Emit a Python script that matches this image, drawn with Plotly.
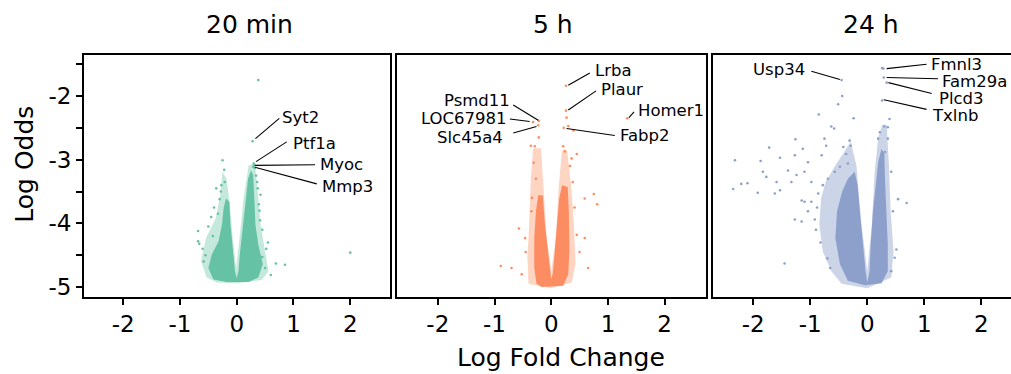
import plotly.graph_objects as go

W, H = 1011, 374
FONT = "DejaVu Sans"

panel_titles = ["20 min", "5 h", "24 h"]
colors = ["#66c2a5", "#fc8d62", "#8da0cb"]

# ---------- Panel 1 (20 min) ----------
p1_core_x = [-0.41, -0.50, -0.44, -0.32, -0.26, -0.23, -0.19, -0.13, -0.11, -0.07, -0.03, 0.00, 0.03, 0.06, 0.11, 0.15, 0.20, 0.25, 0.29, 0.31, 0.33, 0.38, 0.46, 0.38, 0.21, -0.18]
p1_core_y = [-4.88, -4.70, -4.49, -4.28, -4.02, -3.76, -3.61, -3.66, -4.02, -4.44, -4.75, -4.86, -4.75, -4.44, -4.02, -3.61, -3.30, -3.17, -3.24, -3.61, -4.02, -4.33, -4.64, -4.85, -4.92, -4.92]
p1_halo_x = [-0.53, -0.63, -0.54, -0.37, -0.29, -0.25, -0.18, -0.12, -0.07, -0.01, 0.05, 0.12, 0.21, 0.32, 0.37, 0.42, 0.50, 0.56, 0.44, 0.00, -0.35]
p1_halo_y = [-4.85, -4.59, -4.23, -3.92, -3.56, -3.19, -3.30, -3.71, -4.23, -4.70, -4.23, -3.61, -3.09, -3.06, -3.50, -4.02, -4.44, -4.75, -4.89, -4.94, -4.93]
p1_pts_x = [0.38, 0.28, 0.30, 0.31, 0.29, 0.32, -0.25, -0.22, -0.21, -0.28, -0.68, -0.68, -0.66, 0.69, 0.85, 0.55, 0.45, 0.60, 2.00, 0.42, 0.40, 0.45, -0.45, -0.50, -0.55, -0.58, 0.50, -0.36, 0.36, -0.40,
            -0.30, -0.27, -0.33, -0.42, 0.34, 0.37, 0.39, 0.41, -0.60, 0.52]
p1_pts_y = [-1.75, -2.71, -3.06, -3.09, -3.11, -3.13, -3.01, -3.16, -3.35, -3.50, -4.12, -4.28, -4.32, -4.63, -4.65, -4.30, -4.53, -4.81, -4.46, -3.55, -3.80, -4.10, -3.90, -4.05, -4.50, -4.60, -4.70, -3.45, -3.35, -3.75,
            -3.62, -3.40, -3.85, -4.20, -3.25, -3.45, -3.70, -3.95, -4.40, -4.40]
p1_labels = ["Syt2", "Ptf1a", "Myoc", "Mmp3"]
p1_lab_x = [0.76, 0.95, 1.44, 1.46]
p1_lab_y = [-2.33, -2.74, -3.08, -3.42]
p1_seg_x0 = [0.33, 0.34, 0.32, 0.32]
p1_seg_y0 = [-2.67, -3.03, -3.09, -3.12]
p1_seg_x1 = [0.75, 0.88, 1.38, 1.41]
p1_seg_y1 = [-2.35, -2.72, -3.08, -3.38]

# ---------- Panel 2 (5 h) ----------
p2_core_x = [-0.26, -0.30, -0.30, -0.27, -0.23, -0.15, -0.11, -0.06, -0.02, 0.00, 0.03, 0.06, 0.11, 0.14, 0.19, 0.29, 0.31, 0.32, 0.30, 0.21, -0.17]
p2_core_y = [-4.95, -4.70, -4.23, -3.81, -3.56, -3.56, -4.02, -4.44, -4.77, -4.88, -4.77, -4.44, -4.02, -3.61, -3.40, -3.43, -3.81, -4.44, -4.80, -4.98, -5.00]
p2_halo_x = [-0.40, -0.42, -0.39, -0.36, -0.32, -0.18, -0.14, -0.08, 0.00, 0.08, 0.13, 0.19, 0.28, 0.35, 0.40, 0.43, 0.36, 0.00]
p2_halo_y = [-4.95, -4.54, -4.02, -3.30, -2.82, -2.82, -3.40, -4.23, -4.75, -4.23, -3.45, -2.85, -2.85, -3.40, -4.02, -4.64, -4.93, -5.02]
p2_pts_x = [0.26, 0.26, 0.27, 1.34, 0.22, -0.22, -0.32, -0.23, -0.22, -0.36, -0.29, 0.21, 0.24, 0.45, 0.36, 0.75, 0.81, 0.59, -0.57, -0.89, -0.70, 0.65, 0.59, 0.45, -0.46, -0.52, -0.35, 0.30, 0.39,
            -0.31, -0.27, -0.34, 0.33, 0.38, 0.41, -0.45, 0.50]
p2_pts_y = [-1.84, -2.23, -2.34, -2.35, -2.50, -2.39, -2.41, -2.46, -2.65, -2.78, -2.79, -2.79, -2.87, -2.91, -2.98, -3.54, -3.70, -3.61, -4.08, -4.67, -4.70, -4.70, -4.23, -4.18, -4.23, -4.80, -3.81, -2.47, -2.54,
            -3.05, -3.30, -3.60, -3.10, -3.35, -3.75, -4.45, -4.45]
p2_labels = ["Lrba", "Plaur", "Homer1", "Fabp2", "Psmd11", "LOC67981", "Slc45a4"]
p2_lab_x = [0.74, 0.84, 1.49, 1.17, -0.70, -0.74, -0.82]
p2_lab_y = [-1.60, -1.89, -2.22, -2.62, -2.07, -2.36, -2.65]
p2_seg_x0 = [0.30, 0.30, 1.37, 0.27, -0.23, -0.38, -0.26]
p2_seg_y0 = [-1.83, -2.22, -2.34, -2.51, -2.38, -2.40, -2.48]
p2_seg_x1 = [0.68, 0.79, 1.46, 1.12, -0.67, -0.73, -0.67]
p2_seg_y1 = [-1.64, -1.92, -2.25, -2.62, -2.14, -2.36, -2.58]

# ---------- Panel 3 (24 h) ----------
p3_core_x = [-0.34, -0.48, -0.56, -0.53, -0.44, -0.34, -0.22, -0.17, -0.13, -0.08, -0.03, 0.00, 0.04, 0.06, 0.10, 0.15, 0.19, 0.25, 0.30, 0.31, 0.34, 0.36, 0.36, 0.25, -0.04]
p3_core_y = [-4.90, -4.64, -4.23, -3.81, -3.50, -3.30, -3.19, -3.40, -3.81, -4.33, -4.75, -4.93, -4.75, -4.33, -3.81, -3.40, -3.04, -2.83, -2.91, -3.30, -3.81, -4.33, -4.75, -4.94, -4.97]
p3_halo_x = [-0.45, -0.63, -0.78, -0.84, -0.81, -0.73, -0.56, -0.39, -0.29, -0.19, -0.10, 0.00, 0.08, 0.13, 0.19, 0.26, 0.34, 0.38, 0.41, 0.46, 0.42, 0.00]
p3_halo_y = [-4.95, -4.75, -4.44, -4.02, -3.61, -3.35, -3.09, -2.85, -2.72, -3.09, -4.02, -4.75, -4.02, -3.19, -2.67, -2.45, -2.45, -3.09, -3.81, -4.44, -4.85, -5.02]
p3_pts_x = [-0.45, 0.28, 0.26, 0.29, 0.34, 0.26, -0.44, -0.51, -0.24, -0.85, -0.63, -0.58, -1.26, -1.72, -1.13, -0.75, -0.72, -0.42, -0.31, -0.29,
            -2.32, -1.87, -1.53, -1.27, -1.04, -0.80, -1.83, -1.77, -1.39, -1.24, -1.10, -0.98, -2.21, -2.10, -2.35, -1.92, -1.62, -1.53, -1.59, -1.33,
            -1.15, -1.10, -0.98, -1.27, -1.15, -0.92, -1.04, -1.45, -0.86, -0.78, -0.69, -0.57, -0.48, -0.37, -0.34,
            0.39, 0.36, 0.30, 0.22, 0.19, 0.36, 0.31, 0.42, 0.54, 0.69, 0.45, 0.51, 0.48, 0.42,
            -0.88, -0.90, -0.82, -0.70, -0.65]
p3_pts_y = [-1.75, -1.57, -1.56, -1.71, -1.79, -2.07, -2.00, -2.13, -2.35, -2.29, -2.48, -2.51, -2.68, -2.81, -2.83, -2.67, -2.78, -2.80, -2.70, -2.78,
            -3.01, -3.02, -2.97, -2.93, -3.04, -2.93, -3.19, -3.27, -3.17, -3.24, -3.19, -3.35, -3.38, -3.37, -3.46, -3.52, -3.53, -3.48, -3.35, -3.35,
            -3.64, -3.66, -3.66, -3.94, -3.97, -3.94, -3.81, -4.63, -3.53, -3.40, -3.30, -3.19, -3.11, -2.91, -3.06,
            -2.36, -2.49, -2.48, -2.57, -2.67, -2.67, -2.88, -3.19, -3.62, -3.68, -3.81, -4.41, -4.54, -4.75,
            -3.75, -4.10, -4.30, -4.55, -4.70]
p3_labels = ["Usp34", "Fmnl3", "Fam29a", "Plcd3", "Txlnb"]
p3_lab_x = [-1.05, 1.08, 1.28, 1.23, 1.10]
p3_lab_y = [-1.59, -1.51, -1.77, -2.04, -2.31]
p3_seg_x0 = [-0.48, 0.34, 0.34, 0.37, 0.29]
p3_seg_y0 = [-1.74, -1.57, -1.71, -1.79, -2.06]
p3_seg_x1 = [-0.98, 1.04, 1.24, 1.13, 1.04]
p3_seg_y1 = [-1.61, -1.50, -1.73, -1.96, -2.21]

x_tickvals = [-2, -1, 0, 1, 2]
x_ticktext = ["-2", "-1", "0", "1", "2"]
y_tickvals = [-5, -4, -3, -2]
y_ticktext = ["-5", "-4", "-3", "-2"]
y_minor = [-4.5, -3.5, -2.5, -1.5]

panels = [
    dict(core=(p1_core_x, p1_core_y), halo=(p1_halo_x, p1_halo_y), pts=(p1_pts_x, p1_pts_y),
         labels=p1_labels, lab=(p1_lab_x, p1_lab_y), seg=(p1_seg_x0, p1_seg_y0, p1_seg_x1, p1_seg_y1)),
    dict(core=(p2_core_x, p2_core_y), halo=(p2_halo_x, p2_halo_y), pts=(p2_pts_x, p2_pts_y),
         labels=p2_labels, lab=(p2_lab_x, p2_lab_y), seg=(p2_seg_x0, p2_seg_y0, p2_seg_x1, p2_seg_y1)),
    dict(core=(p3_core_x, p3_core_y), halo=(p3_halo_x, p3_halo_y), pts=(p3_pts_x, p3_pts_y),
         labels=p3_labels, lab=(p3_lab_x, p3_lab_y), seg=(p3_seg_x0, p3_seg_y0, p3_seg_x1, p3_seg_y1)),
]

# layout geometry (pixels)
x_px = [(84, 390), (397, 705.5), (712.7, 1011)]
x_ranges = [[-2.69, 2.70], [-2.72, 2.72], [-2.71, 2.52]]
y_top, y_bot = 55.7, 299
y_range = [-5.15, -1.36]
title_px = [249, 553, 871]
halo_alpha = [0.38, 0.38, 0.45]


def hex_rgba(h, a):
    h = h.lstrip("#")
    return "rgba(%d,%d,%d,%.2f)" % (int(h[0:2], 16), int(h[2:4], 16), int(h[4:6], 16), a)


fig = go.Figure()
annotations = []
for i, p in enumerate(panels):
    sfx = "" if i == 0 else str(i + 1)
    xa, ya = "x" + sfx, "y" + sfx
    c = colors[i]
    fig.add_trace(go.Scatter(x=p["halo"][0], y=p["halo"][1], fill="toself", mode="lines",
                             line=dict(width=0), fillcolor=hex_rgba(c, halo_alpha[i]),
                             xaxis=xa, yaxis=ya, hoverinfo="skip", showlegend=False))
    fig.add_trace(go.Scatter(x=p["core"][0], y=p["core"][1], fill="toself", mode="lines",
                             line=dict(width=0), fillcolor=c,
                             xaxis=xa, yaxis=ya, hoverinfo="skip", showlegend=False))
    fig.add_trace(go.Scatter(x=p["pts"][0], y=p["pts"][1], mode="markers",
                             marker=dict(size=2.6, color=c, line=dict(width=0)),
                             xaxis=xa, yaxis=ya, showlegend=False))
    sx, sy = [], []
    for x0, y0, x1, y1 in zip(*p["seg"]):
        sx += [x0, x1, None]
        sy += [y0, y1, None]
    fig.add_trace(go.Scatter(x=sx, y=sy, mode="lines", line=dict(color="black", width=1.1),
                             xaxis=xa, yaxis=ya, hoverinfo="skip", showlegend=False))
    for name, lx, ly in zip(p["labels"], p["lab"][0], p["lab"][1]):
        anchor = "right" if lx < 0 else "left"
        annotations.append(dict(x=lx, y=ly, xref=xa, yref=ya, text=name, showarrow=False,
                                xanchor=anchor, yanchor="middle",
                                font=dict(family=FONT, size=16.5, color="black")))
    annotations.append(dict(x=title_px[i] / W, y=1 - 25 / H, xref="paper", yref="paper",
                            text=panel_titles[i], showarrow=False, xanchor="center", yanchor="middle",
                            font=dict(family=FONT, size=25, color="black")))

    xdom = [x_px[i][0] / W, min(x_px[i][1] / W, 1.0)]
    ydom = [1 - y_bot / H, 1 - y_top / H]
    xkw = dict(domain=xdom, range=x_ranges[i], anchor=ya, showgrid=False, zeroline=False,
               showline=True, linecolor="black", linewidth=2, mirror=True,
               ticks="outside", ticklen=6, tickwidth=1.5, tickcolor="black",
               tickvals=x_tickvals, ticktext=x_ticktext,
               tickfont=dict(family=FONT, size=23, color="black"))
    ykw = dict(domain=ydom, range=y_range, anchor=xa, showgrid=False, zeroline=False,
               showline=True, linecolor="black", linewidth=2, mirror=(i < 2))
    if i == 0:
        ykw.update(ticks="outside", ticklen=6, tickwidth=1.5, tickcolor="black",
                   tickvals=y_tickvals, ticktext=y_ticktext,
                   tickfont=dict(family=FONT, size=23, color="black"),
                   minor=dict(ticks="outside", ticklen=6, tickwidth=1.5, tickcolor="black",
                              tickvals=y_minor))
    else:
        ykw.update(showticklabels=False, ticks="")
    fig.layout["xaxis" + sfx] = xkw
    fig.layout["yaxis" + sfx] = ykw

annotations.append(dict(x=561 / W, y=1 - 360 / H, xref="paper", yref="paper", text="Log Fold Change",
                        showarrow=False, xanchor="center", yanchor="middle",
                        font=dict(family=FONT, size=25, color="black")))
annotations.append(dict(x=25 / W, y=1 - 166 / H, xref="paper", yref="paper", text="Log Odds",
                        showarrow=False, xanchor="center", yanchor="middle", textangle=-90,
                        font=dict(family=FONT, size=25, color="black")))

fig.update_layout(width=W, height=H, margin=dict(l=0, r=0, t=0, b=0),
                  paper_bgcolor="white", plot_bgcolor="white",
                  annotations=annotations, showlegend=False)

fig.write_html("out.html", config={"displayModeBar": False},
               post_script="document.body.style.margin='0px';document.body.style.padding='0px';")
